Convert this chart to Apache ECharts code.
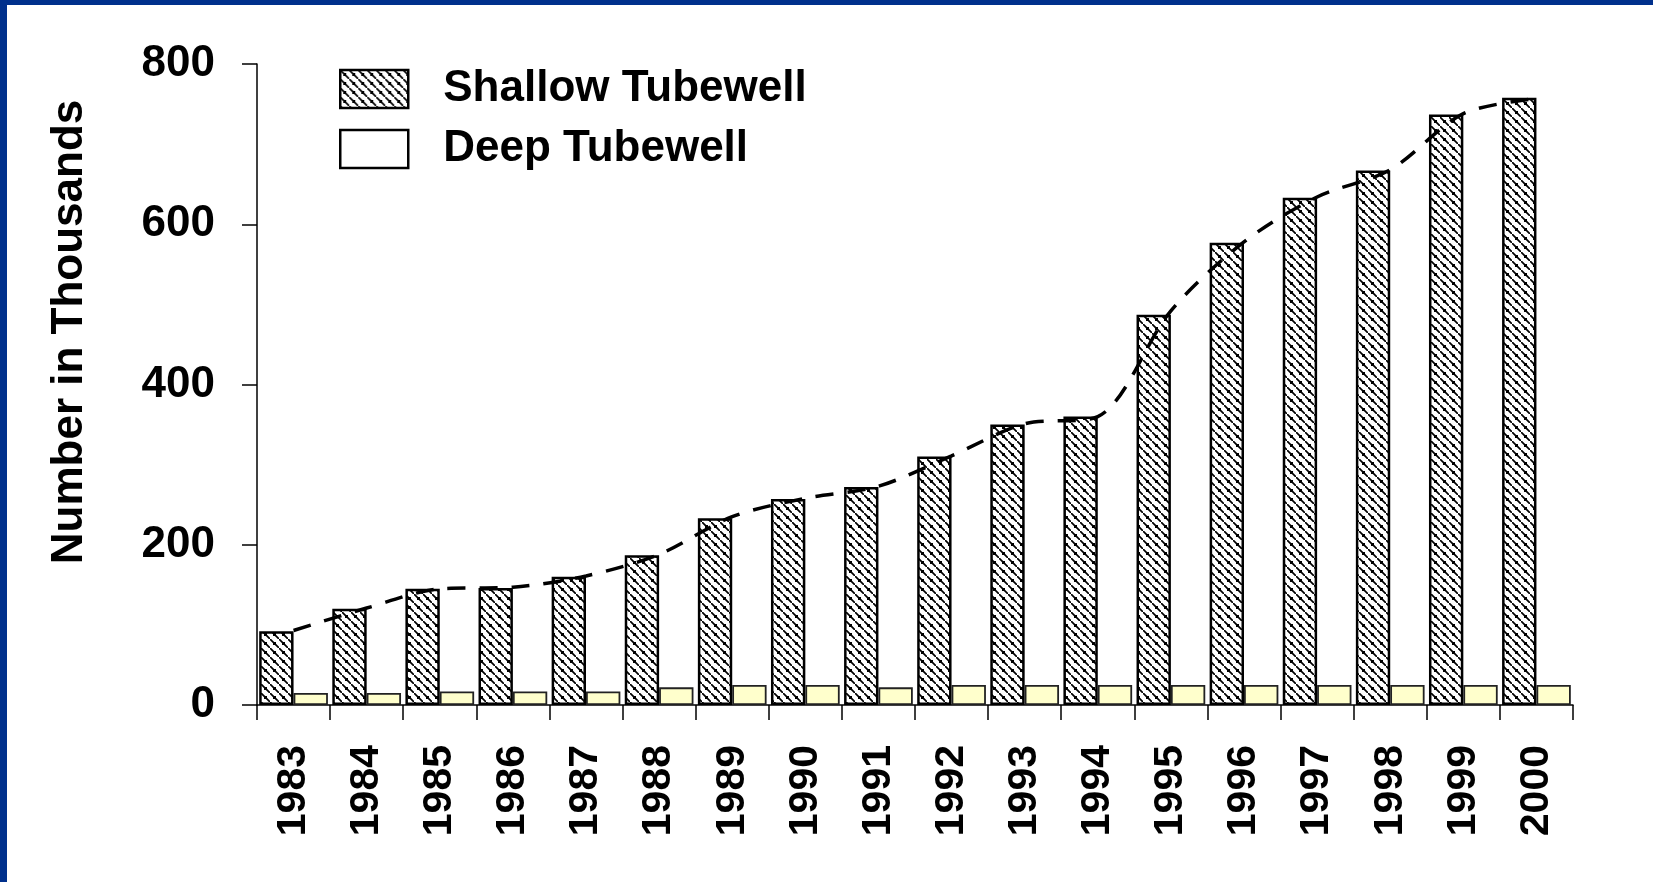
<!DOCTYPE html>
<html>
<head>
<meta charset="utf-8">
<script src="https://cdn.jsdelivr.net/npm/echarts@6/dist/echarts.min.js"></script>
<style>
html,body{margin:0;padding:0;background:#fff;}
#chart{position:absolute;left:0;top:0;width:1653px;height:882px;}
#bandTop{position:absolute;left:0;top:0;width:1653px;height:5px;background:#00308c;z-index:5;}
#bandLeft{position:absolute;left:0;top:0;width:7px;height:882px;background:#00308c;z-index:5;}
</style>
</head>
<body>
<div id="chart"></div>
<div id="bandTop"></div>
<div id="bandLeft"></div>
<script>
const years = ['1983','1984','1985','1986','1987','1988','1989','1990','1991','1992','1993','1994','1995','1996','1997','1998','1999','2000'];
const shallow = [92, 120, 145, 146, 160, 187, 233, 257, 272, 310, 350, 360, 487, 577, 633, 667, 737, 758];
const deep = [15, 15, 17, 17, 17, 22, 25, 25, 22, 25, 25, 25, 25, 25, 25, 25, 25, 25];
const trend = [93, 121, 145, 147, 161, 188, 235, 258, 273, 311, 351, 360, 492, 578, 634, 668, 738, 757];
const yTicks = [0, 200, 400, 600, 800];

function makeHatch() {
  const s = 9;
  const c = document.createElement('canvas');
  c.width = s; c.height = s;
  const g = c.getContext('2d');
  g.fillStyle = '#ffffff';
  g.fillRect(0, 0, s, s);
  g.strokeStyle = '#000000';
  g.lineWidth = 1.7;
  g.beginPath();
  g.moveTo(-2, -2); g.lineTo(s + 2, s + 2);
  g.stroke();
  g.fillStyle = '#000000';
  g.fillRect(3, 3, 3, 3);
  return c;
}
const hatch = { image: makeHatch(), repeat: 'repeat' };

const FONT = '"Liberation Sans", Arial, sans-serif';
const chart = echarts.init(document.getElementById('chart'));
chart.setOption({
  animation: false,
  backgroundColor: '#ffffff',
  grid: { left: 257, right: 80, top: 64, bottom: 177, containLabel: false },
  legend: {
    orient: 'vertical',
    left: 334, top: 62,
    itemWidth: 68, itemHeight: 38, itemGap: 16,
    data: [
      { name: 'Shallow Tubewell', icon: 'rect', itemStyle: { color: hatch, borderColor: '#000', borderWidth: 2.5 } },
      { name: 'Deep Tubewell', icon: 'rect', itemStyle: { color: '#ffffff', borderColor: '#000', borderWidth: 2.5 } }
    ],
    textStyle: { fontFamily: FONT, fontSize: 44, fontWeight: 'bold', color: '#000', padding: [0, 0, 0, 30] }
  },
  graphic: [{
    type: 'text',
    x: 70, y: 332,
    rotation: Math.PI / 2,
    style: { text: 'Number in Thousands', font: 'bold 44px ' + FONT, fill: '#000', align: 'center', verticalAlign: 'middle' }
  }],
  xAxis: {
    type: 'category',
    data: years,
    boundaryGap: true,
    axisLine: { lineStyle: { color: '#000', width: 1.5 } },
    axisTick: { show: true, length: 15, inside: false, alignWithLabel: false, lineStyle: { color: '#000', width: 1.5 } },
    axisLabel: { rotate: 90, margin: 40, fontFamily: FONT, fontSize: 41, fontWeight: 'bold', color: '#000', interval: 0 },
    splitLine: { show: false }
  },
  yAxis: {
    type: 'value',
    min: 0, max: 800, interval: 200,
    axisLine: { show: true, lineStyle: { color: '#000', width: 1.5 } },
    axisTick: { show: true, length: 15, lineStyle: { color: '#000', width: 1.5 } },
    axisLabel: {
      margin: 42, fontFamily: FONT, fontSize: 44, fontWeight: 'bold', color: '#000',
      formatter: v => yTicks.includes(v) ? String(v) : ''
    },
    splitLine: { show: false }
  },
  series: [
    {
      name: 'Shallow Tubewell', type: 'bar', data: shallow,
      barGap: '0%', barCategoryGap: '6%',
      itemStyle: { color: hatch, borderColor: '#000', borderWidth: 2.5 }
    },
    {
      name: 'Deep Tubewell', type: 'bar', data: deep,
      itemStyle: { color: '#ffffcc', borderColor: '#222', borderWidth: 1.8 }
    },
    {
      name: 'Trend', type: 'line', data: trend, smooth: 0.3,
      symbol: 'none', z: 5,
      lineStyle: { color: '#000', width: 3.5, type: [18, 14] }
    }
  ]
});
</script>
</body>
</html>
